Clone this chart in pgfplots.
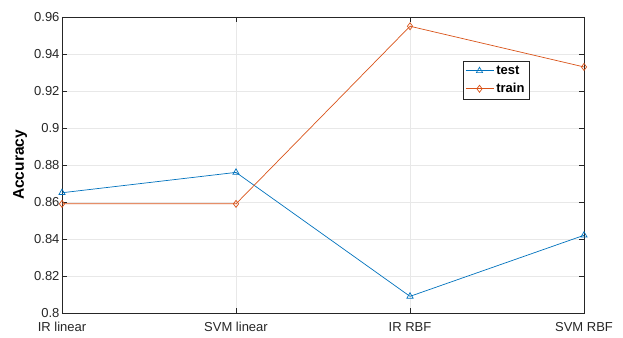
\documentclass[border=0pt]{standalone}
\usepackage{pgfplots}
\pgfplotsset{compat=1.18}
\usepackage{fontspec}
\setmainfont{Liberation Sans}
\definecolor{mblue}{rgb}{0,0.447,0.741}
\definecolor{morange}{rgb}{0.85,0.325,0.098}
\definecolor{axgray}{rgb}{0.15,0.15,0.15}
\begin{document}
\begin{tikzpicture}
\useasboundingbox (-62pt,-24pt) rectangle (561pt,313pt);
\begin{axis}[
  at={(0,0)}, anchor=south west,
  scale only axis, width=522pt, height=296pt,
  xmin=0, xmax=3, ymin=0.8, ymax=0.96,
  xtick={0,1,2,3},
  xticklabels={IR linear, SVM linear, IR RBF, SVM RBF},
  ytick={0.8,0.82,...,0.96},
  yticklabels={0.8,0.82,0.84,0.86,0.88,0.9,0.92,0.94,0.96},
  tick align=inside, tick pos=both,
  major tick length=5pt,
  axis line style={axgray, line width=0.8pt},
  tick style={axgray, line width=0.6pt},
  grid=major,
  grid style={gray!18, line width=0.5pt},
  ylabel={\textbf{Accuracy}},
  ylabel style={at={(axis description cs:-0.08,0.5)}, anchor=center},
  ticklabel style={font=\fontsize{13}{15}\selectfont, text=axgray},
  label style={font=\fontsize{15.5}{17}\selectfont},
  xticklabel style={yshift=-7pt, inner sep=2pt},
  yticklabel style={xshift=1pt},
  legend style={at={(0.768,0.851)}, anchor=north west, draw=axgray, line width=0.5pt,
    font=\fontsize{13}{15}\selectfont\bfseries, row sep=2.5pt, inner xsep=2pt, inner ysep=2pt,
    nodes={inner sep=2.5pt}},
  legend cell align=left,
  legend image code/.code={\draw[mark repeat=2,mark phase=2,#1] plot coordinates {(0pt,0pt) (14pt,0pt) (28pt,0pt)};},
]
\addplot[mblue, line width=0.7pt, mark=triangle, mark size=3.6pt, mark options={solid}]
  coordinates {(0,0.865) (1,0.876) (2,0.809) (3,0.842)};
\addlegendentry{test}
\addplot[morange, line width=0.7pt, mark=diamond, mark size=3.5pt, mark options={solid}]
  coordinates {(0,0.859) (1,0.859) (2,0.955) (3,0.933)};
\addlegendentry{train}
\end{axis}
\end{tikzpicture}
\end{document}
